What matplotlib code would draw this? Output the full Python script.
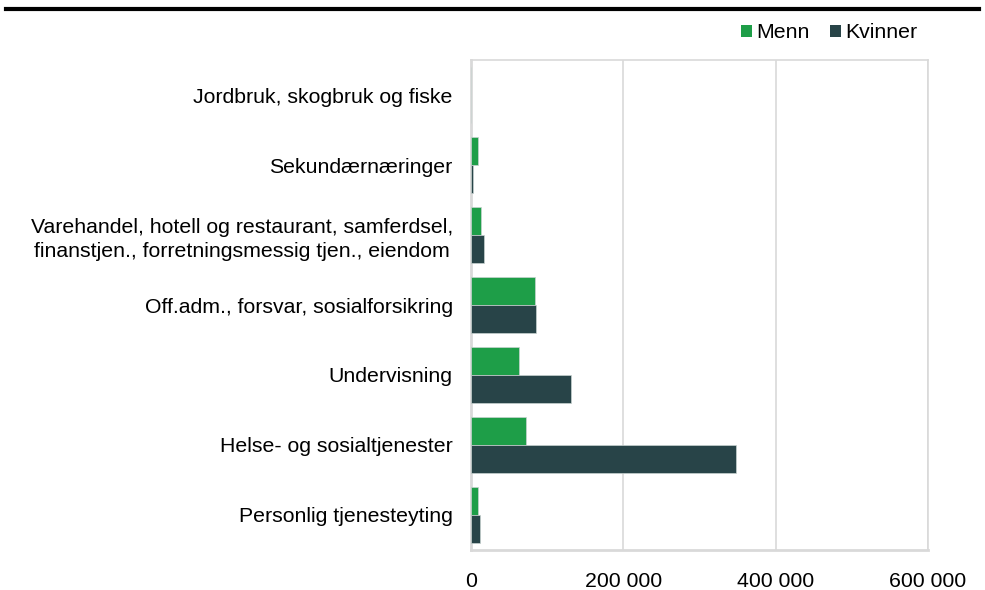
import matplotlib
matplotlib.use("Agg")
import matplotlib.pyplot as plt
from matplotlib.patches import Patch
from matplotlib.lines import Line2D
import numpy as np

plt.rcParams['font.family'] = ['Liberation Sans', 'DejaVu Sans']

# data
categories = [
    "Jordbruk, skogbruk og fiske",
    "Sekundærnæringer",
    "Varehandel, hotell og restaurant, samferdsel,\nfinanstjen., forretningsmessig tjen., eiendom",
    "Off.adm., forsvar, sosialforsikring",
    "Undervisning",
    "Helse- og sosialtjenester",
    "Personlig tjenesteyting",
]
menn = [0, 10000, 14000, 84000, 63000, 73000, 9000]
kvinner = [0, 2500, 17000, 85000, 131000, 348000, 12000]
xticks = [0, 200000, 400000, 600000]
xtick_labels = ["0", "200 000", "400 000", "600 000"]

GREEN = "#1e9e48"
DARK = "#284448"
GRID = "#d9d9d9"

fig = plt.figure(figsize=(9.85, 5.9), dpi=100)
ax = fig.add_axes([0.478, 0.068, 0.464, 0.830])

y = np.arange(len(categories))
h = 0.4
ax.barh(y - h / 2, menn, height=h, color=GREEN, edgecolor="#c8d3d0", linewidth=0.5, zorder=3)
ax.barh(y + h / 2, kvinner, height=h, color=DARK, edgecolor="#c8d3d0", linewidth=0.5, zorder=3)

ax.set_xlim(0, 600000)
ax.set_ylim(len(categories) - 0.5, -0.5)
ax.set_yticks(y)
ax.set_yticklabels(categories, fontsize=15.3, linespacing=1.3)
ax.set_xticks(xticks)
ax.set_xticklabels(xtick_labels, fontsize=15.3)
ax.tick_params(axis="both", length=0, pad=13)
ax.tick_params(axis="x", pad=16)
for lab in ax.get_yticklabels():
    lab.set_horizontalalignment("right")
    lab.set_multialignment("center")

ax.grid(axis="x", color=GRID, linewidth=1.2, zorder=0)
for side in ["top", "right", "bottom", "left"]:
    ax.spines[side].set_color(GRID)
    ax.spines[side].set_linewidth(1.2)
ax.spines["left"].set_linewidth(2.0)
ax.spines["bottom"].set_linewidth(2.0)

# top black rule
fig.add_artist(Line2D([0.006, 0.994], [0.985, 0.985], color="black", linewidth=3,
                      transform=fig.transFigure))

handles = [Patch(facecolor=GREEN, label="Menn"), Patch(facecolor=DARK, label="Kvinner")]
fig.legend(handles=handles, loc="upper right", bbox_to_anchor=(0.940, 0.975), ncol=2,
           frameon=False, fontsize=15.3, handlelength=0.5, handleheight=0.5,
           handletextpad=0.2, columnspacing=1.0, borderaxespad=0)

fig.savefig("out.png", dpi=100, facecolor="white")
